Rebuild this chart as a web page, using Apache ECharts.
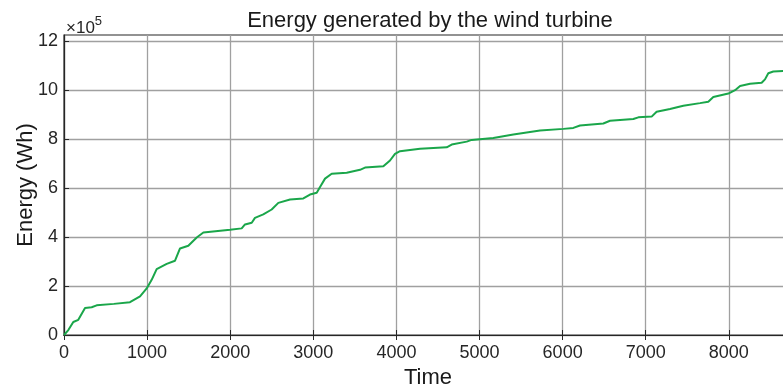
<!DOCTYPE html>
<html><head><meta charset="utf-8">
<script src="https://cdn.jsdelivr.net/npm/echarts@6/dist/echarts.min.js"></script>
<style>html,body{margin:0;padding:0;background:#fff}#c{width:783px;height:389px}</style>
</head><body><div id="c"></div>
<script>
const title = 'Energy generated by the wind turbine';
const xName = 'Time';
const yName = 'Energy (Wh)';
const xTicks = [0,1000,2000,3000,4000,5000,6000,7000,8000];
const yTicks = [0,2,4,6,8,10,12];
const time = [0,52,112,172,253,333,393,600,794,915,995,1055,1115,1236,1336,1396,1496,1597,1677,1998,2138,2178,2259,2298,2398,2499,2579,2720,2880,2960,3041,3081,3141,3221,3402,3562,3622,3843,3923,3983,4043,4284,4605,4665,4846,4906,5166,5407,5728,6009,6129,6209,6490,6570,6851,6911,7071,7131,7292,7452,7653,7753,7813,7994,8075,8135,8255,8395,8435,8475,8535,8655,8760];
// energy in units of 1e5 Wh
const energy = [0,0.2,0.53,0.62,1.1,1.13,1.21,1.27,1.34,1.58,1.9,2.25,2.69,2.9,3.03,3.53,3.64,3.98,4.18,4.29,4.35,4.51,4.58,4.78,4.92,5.12,5.39,5.53,5.57,5.73,5.8,6.04,6.38,6.58,6.62,6.74,6.83,6.88,7.12,7.39,7.5,7.6,7.66,7.77,7.89,7.96,8.04,8.18,8.34,8.41,8.45,8.55,8.63,8.74,8.81,8.88,8.91,9.11,9.22,9.35,9.46,9.52,9.71,9.85,9.99,10.16,10.25,10.29,10.43,10.68,10.75,10.77,10.8];

const FONT = 'Liberation Sans, Arial, Helvetica, sans-serif';
const chart = echarts.init(document.getElementById('c'), null, {renderer:'canvas'});
const series = time.map((t,i)=>[t, energy[i]]);
const xMax = 8760, yMax = 12.24;
chart.setOption({
  animation:false,
  backgroundColor:'#fff',
  title:{text:title, left:425, textAlign:'center', top:5,
    textStyle:{fontFamily:FONT, fontSize:22, fontWeight:'normal', color:'#1a1a1a'}},
  grid:{left:64, top:35, width:728, height:300, show:true, borderColor:'#262626', borderWidth:1.2,
    containLabel:false, outerBoundsMode:'none'},
  xAxis:[{type:'value', min:0, max:xMax, interval:1000,
    axisLine:{show:true, onZero:false, lineStyle:{color:'#262626', width:1.2}},
    axisTick:{show:true, inside:true, length:5, customValues:xTicks, lineStyle:{color:'#262626'}},
    axisLabel:{fontFamily:FONT, fontSize:18, color:'#262626', margin:9, customValues:xTicks,
      hideOverlap:false, formatter:(v)=>String(v)},
    splitLine:{show:true, lineStyle:{color:'#a0a0a0', width:1.3}},
    name:xName, nameLocation:'middle', nameGap:29,
    nameTextStyle:{fontFamily:FONT, fontSize:22, color:'#1a1a1a'}},
   {type:'value', position:'top', min:0, max:xMax, interval:1000,
    axisLine:{show:true, lineStyle:{color:'#262626', width:1.2}},
    axisTick:{show:true, inside:true, length:5, customValues:xTicks, lineStyle:{color:'#262626'}},
    axisLabel:{show:false}, splitLine:{show:false}}],
  yAxis:{type:'value', min:0, max:yMax, interval:2,
    axisLine:{show:true, onZero:false, lineStyle:{color:'#262626', width:1.2}},
    axisTick:{show:true, inside:true, length:5, customValues:yTicks, lineStyle:{color:'#262626'}},
    axisLabel:{fontFamily:FONT, fontSize:18, color:'#262626', margin:6, customValues:yTicks},
    splitLine:{show:true, lineStyle:{color:'#a0a0a0', width:1.3}},
    name:yName, nameLocation:'middle', nameGap:27, nameMoveOverlap:false,
    nameTextStyle:{fontFamily:FONT, fontSize:22, color:'#1a1a1a'}},
  graphic:[{type:'text', left:66, top:15,
    style:{text:'{a|×10}{b|5}', rich:{
      a:{fontFamily:FONT, fontSize:17, fill:'#262626', verticalAlign:'bottom'},
      b:{fontFamily:FONT, fontSize:13, fill:'#262626', verticalAlign:'top', padding:[0,0,9,0]}}}}],
  series:[{type:'line', data:series, showSymbol:false, smooth:false,
    lineStyle:{color:'#1aa64a', width:2}, xAxisIndex:0}]
});
</script></body></html>
